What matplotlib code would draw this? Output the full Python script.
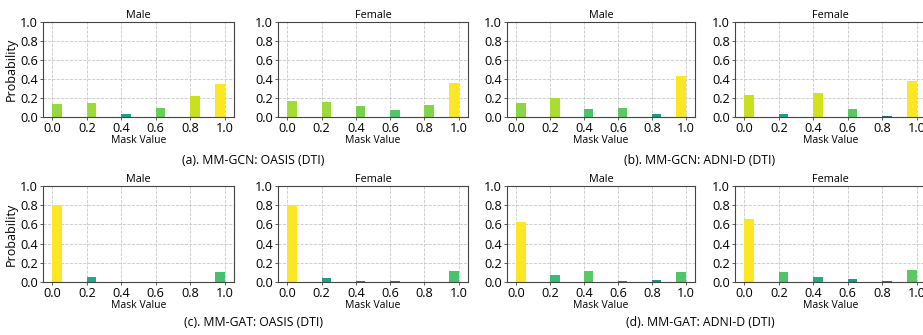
import numpy as np
import matplotlib
matplotlib.use("Agg")
import matplotlib.pyplot as plt
from matplotlib.colors import LogNorm

plt.rcParams['font.family'] = ['Open Sans', 'DejaVu Sans']

mask_values = np.array([0.0, 0.2, 0.4, 0.6, 0.8, 1.0])

gcn_oasis_male = [0.138, 0.149, 0.028, 0.092, 0.216, 0.351]
gcn_oasis_female = [0.163, 0.152, 0.110, 0.074, 0.120, 0.362]
gcn_adni_male = [0.149, 0.199, 0.078, 0.096, 0.025, 0.426]
gcn_adni_female = [0.230, 0.028, 0.252, 0.082, 0.007, 0.379]
gat_oasis_male = [0.797, 0.055, 0.002, 0.0, 0.007, 0.110]
gat_oasis_female = [0.797, 0.041, 0.014, 0.014, 0.002, 0.117]
gat_adni_male = [0.628, 0.079, 0.121, 0.014, 0.024, 0.110]
gat_adni_female = [0.659, 0.107, 0.052, 0.031, 0.010, 0.128]

rows = [
    [("Male", gcn_oasis_male), ("Female", gcn_oasis_female),
     ("Male", gcn_adni_male), ("Female", gcn_adni_female)],
    [("Male", gat_oasis_male), ("Female", gat_oasis_female),
     ("Male", gat_adni_male), ("Female", gat_adni_female)],
]
captions = [
    ["(a). MM-GCN: OASIS (DTI)", "(b). MM-GCN: ADNI-D (DTI)"],
    ["(c). MM-GAT: OASIS (DTI)", "(d). MM-GAT: ADNI-D (DTI)"],
]

W, H = 923, 335
fig = plt.figure(figsize=(W / 100, H / 100), dpi=100)

col_left = [43, 278, 507, 735]
col_width = [191, 190, 188, 191]
row_top = [22.3, 185.7]
row_height = [94.4, 96.6]
bar_w = 0.055

for r, row in enumerate(rows):
    for c, (title, probs) in enumerate(row):
        ax = fig.add_axes([col_left[c] / W, 1 - (row_top[r] + row_height[r]) / H,
                           col_width[c] / W, row_height[r] / H])
        probs = np.array(probs)
        # colour each bar by its height on a log scale (max bar -> yellow)
        norm = LogNorm(vmin=1e-3, vmax=probs.max())
        colors = plt.cm.viridis(norm(np.clip(probs, 1e-3, None)))
        left = np.minimum(mask_values, 1 - bar_w)
        ax.bar(left, probs, width=bar_w, align='edge', color=colors)
        ax.set_xlim(-0.055, 1.055)
        ax.set_ylim(0, 1)
        ax.set_xticks(mask_values)
        ax.set_yticks(np.arange(0, 1.01, 0.2))
        ax.xaxis.set_major_formatter(matplotlib.ticker.FormatStrFormatter('%.1f'))
        ax.yaxis.set_major_formatter(matplotlib.ticker.FormatStrFormatter('%.1f'))
        ax.tick_params(labelsize=9.2, length=2, width=0.6, pad=1.5, color='#444444')
        ax.grid(True, linestyle='--', color='#c8c8c8', linewidth=0.6)
        ax.set_axisbelow(True)
        for s in ax.spines.values():
            s.set_color('#444444')
            s.set_linewidth(0.8)
        ax.set_title(title, fontsize=7.8, pad=3)
        ax.set_xlabel("Mask Value", fontsize=7.5, labelpad=0)
        if c == 0:
            ax.set_ylabel("Probability", fontsize=9, labelpad=2)

cap_y = [160, 323]
cap_x = [253, 700]
for r in range(2):
    for k in range(2):
        fig.text(cap_x[k] / W, 1 - cap_y[r] / H, captions[r][k],
                 ha='center', va='center', fontsize=8.8)

fig.savefig("out.png", dpi=100)
